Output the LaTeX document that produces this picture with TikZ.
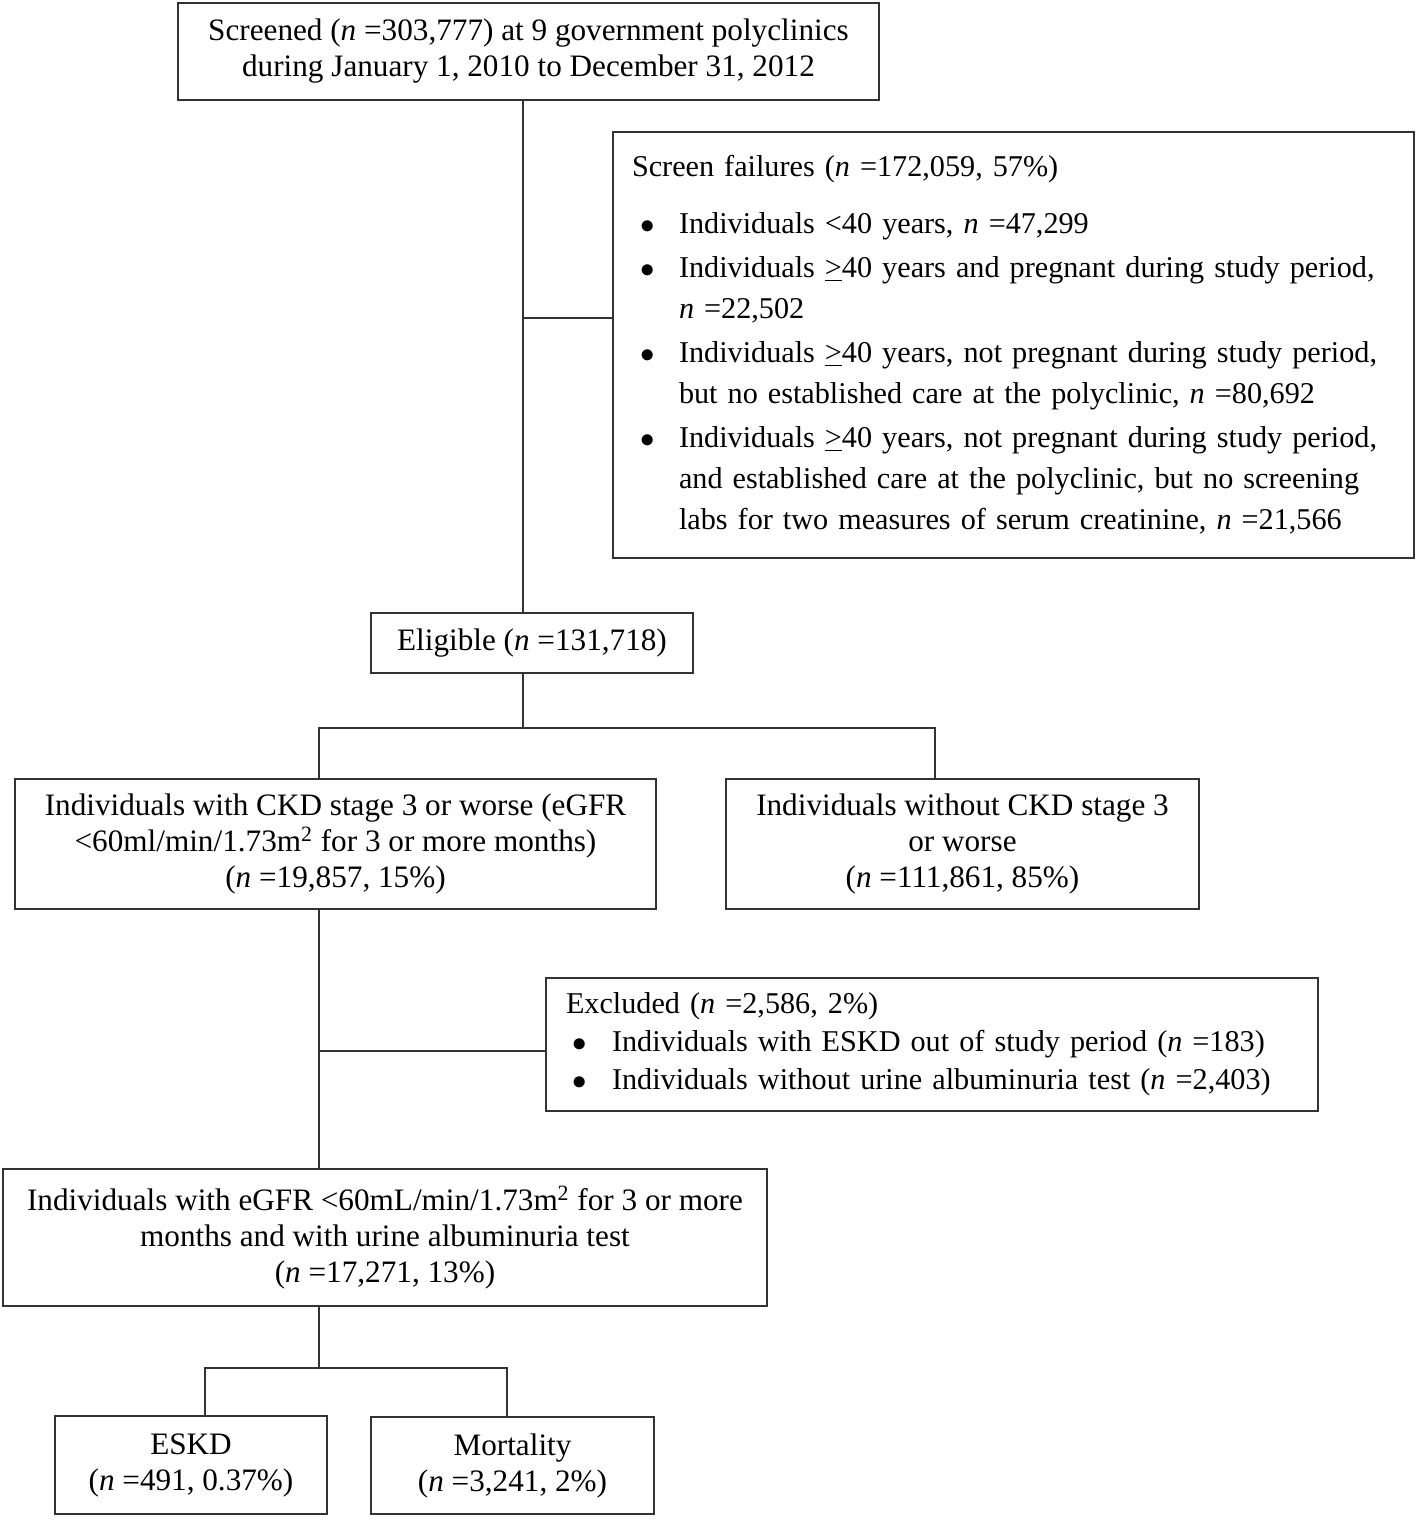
\documentclass[tikz,border=0pt]{standalone}
\usepackage{fontspec}
\setmainfont{Liberation Serif}
\usetikzlibrary{positioning, calc}

\newcommand{\fbul}[2]{\makebox[#2][l]{\hspace{#1}$\bullet$}}
\newcommand{\fgap}{\hspace*{23.5pt}}

\begin{document}
\begin{tikzpicture}[x=0.5pt, y=-0.5pt,
    flowbox/.style={draw=black!80, line width=1pt, inner sep=0pt, align=center,
        font=\fontsize{15.6}{18}\selectfont},
    listbox/.style={flowbox, align=left, inner xsep=9.5pt},
    conn/.style={draw=black!80, line width=1pt}]
\useasboundingbox (0,0) rectangle (1418,1521);

% Boxes
\node[flowbox, minimum width=350.5pt, minimum height=48.5pt] (screen) at (528.5,51.5)
    {Screened (\textit{n} =303,777) at 9 government polyclinics\\
     during January 1, 2010 to December 31, 2012};

\node[listbox, text width=381.5pt, minimum height=213pt,
      font=\fontsize{15.1}{20.5}\selectfont] (fail) at (1013.5,345)
    {Screen failures (\textit{n} =172,059, 57\%)\\[8pt]
     \fbul{4pt}{23.5pt}Individuals <40 years, \textit{n} =47,299\\[1.5pt]
     \fbul{4pt}{23.5pt}Individuals \underline{>}40 years and pregnant during study period,\\
     \fgap\textit{n} =22,502\\[1.5pt]
     \fbul{4pt}{23.5pt}Individuals \underline{>}40 years, not pregnant during study period,\\
     \fgap but no established care at the polyclinic, \textit{n} =80,692\\[1.5pt]
     \fbul{4pt}{23.5pt}Individuals \underline{>}40 years, not pregnant during study period,\\
     \fgap and established care at the polyclinic, but no screening\\
     \fgap labs for two measures of serum creatinine, \textit{n} =21,566\par\vspace{15pt}};

\node[flowbox, minimum width=161pt, minimum height=30pt] (elig) at (532,643)
    {Eligible (\textit{n} =131,718)};

\node[flowbox, minimum width=320.5pt, minimum height=65pt] (ckd) at (335.5,844)
    {Individuals with CKD stage 3 or worse (eGFR\\
     <60ml/min/1.73m\textsuperscript{2} for 3 or more months)\\
     (\textit{n} =19,857, 15\%)};

\node[flowbox, minimum width=236.5pt, minimum height=65pt] (nockd) at (962.5,844)
    {Individuals without CKD stage 3\\ or worse\\ (\textit{n} =111,861, 85\%)};

\node[listbox, text width=366pt, inner xsep=10pt, minimum height=66.5pt,
      font=\fontsize{15.1}{19}\selectfont] (excl) at (932,1044.5)
    {Excluded (\textit{n} =2,586, 2\%)\\
     \fbul{3pt}{23pt}Individuals with ESKD out of study period (\textit{n} =183)\\
     \fbul{3pt}{23pt}Individuals without urine albuminuria test (\textit{n} =2,403)};

\node[flowbox, minimum width=382pt, minimum height=68.5pt] (egfr) at (385,1237.5)
    {Individuals with eGFR <60mL/min/1.73m\textsuperscript{2} for 3 or more\\
     months and with urine albuminuria test\\
     (\textit{n} =17,271, 13\%)};

\node[flowbox, minimum width=136pt, minimum height=49pt] (eskd) at (191,1465)
    {ESKD\\ (\textit{n} =491, 0.37\%)};
\node[flowbox, minimum width=141.5pt, minimum height=48.5pt] (mort) at (512.5,1465.5)
    {Mortality\\ (\textit{n} =3,241, 2\%)};

% Connectors
\coordinate (spine) at (523,318);
\draw[conn] (screen.south -| spine) -- (elig.north -| spine);
\draw[conn] (spine) -- (fail.west |- spine);

\coordinate (split1) at (523,728);
\coordinate (armL) at (319,728);
\coordinate (armR) at (935,728);
\draw[conn] (elig.south -| split1) -- (split1);
\draw[conn] (ckd.north -| armL) -- (armL) -- (armR) -- (nockd.north -| armR);

\coordinate (mid) at (319,1051);
\draw[conn] (ckd.south -| mid) -- (egfr.north -| mid);
\draw[conn] (mid) -- (excl.west |- mid);

\coordinate (split2) at (319,1368);
\coordinate (armL2) at (205,1368);
\coordinate (armR2) at (507,1368);
\draw[conn] (egfr.south -| split2) -- (split2);
\draw[conn] (eskd.north -| armL2) -- (armL2) -- (armR2) -- (mort.north -| armR2);
\end{tikzpicture}
\end{document}
